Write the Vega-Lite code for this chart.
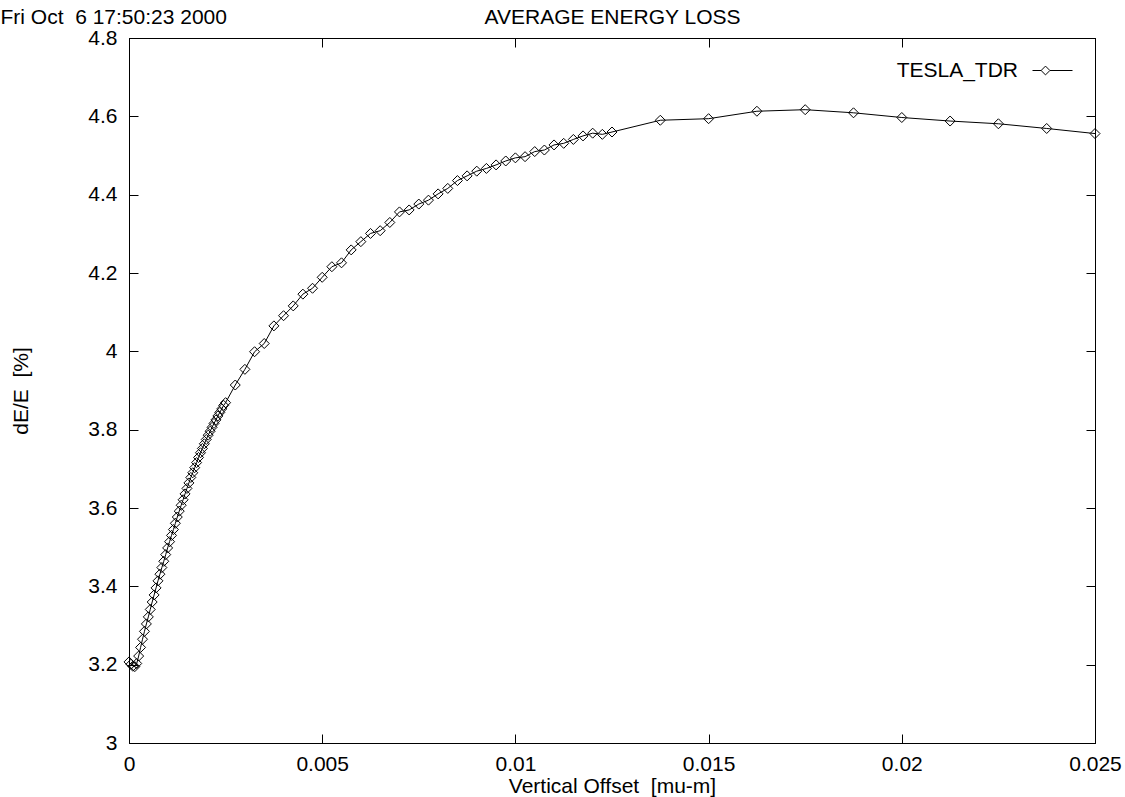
{
  "$schema": "https://vega.github.io/schema/vega-lite/v6.json",
  "width": 966,
  "height": 705,
  "autosize": {"type": "none"},
  "padding": {"left": 129, "top": 38, "right": 30, "bottom": 54},
  "background": "white",
  "config": {
    "font": "Liberation Sans",
    "view": {"stroke": "black", "strokeWidth": 1},
    "axis": {
      "domainColor": "black", "domainWidth": 1,
      "tickColor": "black", "tickWidth": 1, "tickSize": -9,
      "labelColor": "black", "titleColor": "black",
      "labelFont": "Liberation Sans", "titleFont": "Liberation Sans",
      "labelFontSize": 21, "titleFontSize": 21, "titleFontWeight": "normal",
      "grid": false, "labelFlush": false, "labelOverlap": false
    },
    "legend": {"padding": 0}
  },
  "data": {
    "values": [
      {"x": 0, "y": 3.207, "s": "TESLA_TDR"},
      {"x": 0.00005, "y": 3.201, "s": "TESLA_TDR"},
      {"x": 0.0001, "y": 3.196, "s": "TESLA_TDR"},
      {"x": 0.00015, "y": 3.195, "s": "TESLA_TDR"},
      {"x": 0.0002, "y": 3.203, "s": "TESLA_TDR"},
      {"x": 0.00025, "y": 3.222, "s": "TESLA_TDR"},
      {"x": 0.0003, "y": 3.244, "s": "TESLA_TDR"},
      {"x": 0.00035, "y": 3.265, "s": "TESLA_TDR"},
      {"x": 0.0004, "y": 3.285, "s": "TESLA_TDR"},
      {"x": 0.00045, "y": 3.304, "s": "TESLA_TDR"},
      {"x": 0.0005, "y": 3.322, "s": "TESLA_TDR"},
      {"x": 0.00055, "y": 3.341, "s": "TESLA_TDR"},
      {"x": 0.0006, "y": 3.360, "s": "TESLA_TDR"},
      {"x": 0.00065, "y": 3.378, "s": "TESLA_TDR"},
      {"x": 0.0007, "y": 3.396, "s": "TESLA_TDR"},
      {"x": 0.00075, "y": 3.414, "s": "TESLA_TDR"},
      {"x": 0.0008, "y": 3.431, "s": "TESLA_TDR"},
      {"x": 0.00085, "y": 3.448, "s": "TESLA_TDR"},
      {"x": 0.0009, "y": 3.464, "s": "TESLA_TDR"},
      {"x": 0.00095, "y": 3.481, "s": "TESLA_TDR"},
      {"x": 0.001, "y": 3.498, "s": "TESLA_TDR"},
      {"x": 0.00105, "y": 3.514, "s": "TESLA_TDR"},
      {"x": 0.0011, "y": 3.530, "s": "TESLA_TDR"},
      {"x": 0.00115, "y": 3.545, "s": "TESLA_TDR"},
      {"x": 0.0012, "y": 3.561, "s": "TESLA_TDR"},
      {"x": 0.00125, "y": 3.577, "s": "TESLA_TDR"},
      {"x": 0.0013, "y": 3.592, "s": "TESLA_TDR"},
      {"x": 0.00135, "y": 3.607, "s": "TESLA_TDR"},
      {"x": 0.0014, "y": 3.621, "s": "TESLA_TDR"},
      {"x": 0.00145, "y": 3.636, "s": "TESLA_TDR"},
      {"x": 0.0015, "y": 3.650, "s": "TESLA_TDR"},
      {"x": 0.00155, "y": 3.664, "s": "TESLA_TDR"},
      {"x": 0.0016, "y": 3.678, "s": "TESLA_TDR"},
      {"x": 0.00165, "y": 3.690, "s": "TESLA_TDR"},
      {"x": 0.0017, "y": 3.703, "s": "TESLA_TDR"},
      {"x": 0.00175, "y": 3.716, "s": "TESLA_TDR"},
      {"x": 0.0018, "y": 3.729, "s": "TESLA_TDR"},
      {"x": 0.00185, "y": 3.741, "s": "TESLA_TDR"},
      {"x": 0.0019, "y": 3.752, "s": "TESLA_TDR"},
      {"x": 0.00195, "y": 3.764, "s": "TESLA_TDR"},
      {"x": 0.002, "y": 3.775, "s": "TESLA_TDR"},
      {"x": 0.00205, "y": 3.786, "s": "TESLA_TDR"},
      {"x": 0.0021, "y": 3.796, "s": "TESLA_TDR"},
      {"x": 0.00215, "y": 3.806, "s": "TESLA_TDR"},
      {"x": 0.0022, "y": 3.816, "s": "TESLA_TDR"},
      {"x": 0.00225, "y": 3.825, "s": "TESLA_TDR"},
      {"x": 0.0023, "y": 3.835, "s": "TESLA_TDR"},
      {"x": 0.00235, "y": 3.844, "s": "TESLA_TDR"},
      {"x": 0.0024, "y": 3.853, "s": "TESLA_TDR"},
      {"x": 0.00245, "y": 3.862, "s": "TESLA_TDR"},
      {"x": 0.0025, "y": 3.869, "s": "TESLA_TDR"},
      {"x": 0.00275, "y": 3.914, "s": "TESLA_TDR"},
      {"x": 0.003, "y": 3.954, "s": "TESLA_TDR"},
      {"x": 0.00325, "y": 3.999, "s": "TESLA_TDR"},
      {"x": 0.0035, "y": 4.020, "s": "TESLA_TDR"},
      {"x": 0.00375, "y": 4.065, "s": "TESLA_TDR"},
      {"x": 0.004, "y": 4.091, "s": "TESLA_TDR"},
      {"x": 0.00425, "y": 4.116, "s": "TESLA_TDR"},
      {"x": 0.0045, "y": 4.146, "s": "TESLA_TDR"},
      {"x": 0.00475, "y": 4.161, "s": "TESLA_TDR"},
      {"x": 0.005, "y": 4.189, "s": "TESLA_TDR"},
      {"x": 0.00525, "y": 4.216, "s": "TESLA_TDR"},
      {"x": 0.0055, "y": 4.226, "s": "TESLA_TDR"},
      {"x": 0.00575, "y": 4.259, "s": "TESLA_TDR"},
      {"x": 0.006, "y": 4.280, "s": "TESLA_TDR"},
      {"x": 0.00625, "y": 4.301, "s": "TESLA_TDR"},
      {"x": 0.0065, "y": 4.308, "s": "TESLA_TDR"},
      {"x": 0.00675, "y": 4.329, "s": "TESLA_TDR"},
      {"x": 0.007, "y": 4.356, "s": "TESLA_TDR"},
      {"x": 0.00725, "y": 4.361, "s": "TESLA_TDR"},
      {"x": 0.0075, "y": 4.376, "s": "TESLA_TDR"},
      {"x": 0.00775, "y": 4.386, "s": "TESLA_TDR"},
      {"x": 0.008, "y": 4.402, "s": "TESLA_TDR"},
      {"x": 0.00825, "y": 4.416, "s": "TESLA_TDR"},
      {"x": 0.0085, "y": 4.436, "s": "TESLA_TDR"},
      {"x": 0.00875, "y": 4.448, "s": "TESLA_TDR"},
      {"x": 0.009, "y": 4.460, "s": "TESLA_TDR"},
      {"x": 0.00925, "y": 4.467, "s": "TESLA_TDR"},
      {"x": 0.0095, "y": 4.476, "s": "TESLA_TDR"},
      {"x": 0.00975, "y": 4.486, "s": "TESLA_TDR"},
      {"x": 0.01, "y": 4.494, "s": "TESLA_TDR"},
      {"x": 0.01025, "y": 4.497, "s": "TESLA_TDR"},
      {"x": 0.0105, "y": 4.510, "s": "TESLA_TDR"},
      {"x": 0.01075, "y": 4.514, "s": "TESLA_TDR"},
      {"x": 0.011, "y": 4.527, "s": "TESLA_TDR"},
      {"x": 0.01125, "y": 4.531, "s": "TESLA_TDR"},
      {"x": 0.0115, "y": 4.541, "s": "TESLA_TDR"},
      {"x": 0.01175, "y": 4.550, "s": "TESLA_TDR"},
      {"x": 0.012, "y": 4.557, "s": "TESLA_TDR"},
      {"x": 0.01225, "y": 4.554, "s": "TESLA_TDR"},
      {"x": 0.0125, "y": 4.560, "s": "TESLA_TDR"},
      {"x": 0.01375, "y": 4.590, "s": "TESLA_TDR"},
      {"x": 0.015, "y": 4.594, "s": "TESLA_TDR"},
      {"x": 0.01625, "y": 4.613, "s": "TESLA_TDR"},
      {"x": 0.0175, "y": 4.617, "s": "TESLA_TDR"},
      {"x": 0.01875, "y": 4.609, "s": "TESLA_TDR"},
      {"x": 0.02, "y": 4.597, "s": "TESLA_TDR"},
      {"x": 0.02125, "y": 4.588, "s": "TESLA_TDR"},
      {"x": 0.0225, "y": 4.581, "s": "TESLA_TDR"},
      {"x": 0.02375, "y": 4.569, "s": "TESLA_TDR"},
      {"x": 0.025, "y": 4.556, "s": "TESLA_TDR"}
    ]
  },
  "layer": [
    {
      "mark": {"type": "line", "color": "black", "strokeWidth": 1},
      "encoding": {
        "x": {
          "field": "x", "type": "quantitative",
          "scale": {"domain": [0, 0.025], "nice": false, "zero": false},
          "axis": {
            "orient": "bottom",
            "values": [0, 0.005, 0.01, 0.015, 0.02, 0.025],
            "format": "~g",
            "title": "Vertical Offset \u00a0[mu-m]",
            "labelPadding": 19,
            "titleX": 483, "titleY": 49,
            "titleAlign": "center", "titleBaseline": "alphabetic"
          }
        },
        "y": {
          "field": "y", "type": "quantitative",
          "scale": {"domain": [3, 4.8], "nice": false, "zero": false},
          "axis": {
            "orient": "left",
            "values": [3, 3.2, 3.4, 3.6, 3.8, 4, 4.2, 4.4, 4.6, 4.8],
            "format": "~g",
            "title": "dE/E \u00a0[%]",
            "labelPadding": 21,
            "titleX": -102, "titleY": 352.5, "titleAngle": -90,
            "titleAlign": "center", "titleBaseline": "alphabetic"
          }
        },
        "color": {
          "field": "s", "type": "nominal",
          "scale": {"range": ["black"]},
          "legend": {
            "orient": "none", "legendX": 903, "legendY": 12,
            "title": null,
            "symbolType": "M-1,0L-0.57,0M-0.13,0L1,0M-0.57,0L-0.35,-0.22L-0.13,0L-0.35,0.22Z",
            "symbolSize": 1600,
            "symbolStrokeWidth": 1,
            "symbolStrokeColor": "black",
            "symbolFillColor": "transparent",
            "labelFont": "Liberation Sans",
            "labelFontSize": 21,
            "labelColor": "black",
            "labelAlign": "right",
            "labelOffset": -55,
            "labelLimit": 0
          }
        }
      }
    },
    {
      "mark": {"type": "point", "shape": "diamond", "filled": false, "color": "black", "size": 100, "strokeWidth": 1, "opacity": 1},
      "encoding": {
        "x": {
          "field": "x", "type": "quantitative",
          "axis": {
            "orient": "top",
            "values": [0, 0.005, 0.01, 0.015, 0.02, 0.025],
            "labels": false,
            "title": "AVERAGE ENERGY LOSS",
            "titleX": 483, "titleY": -15,
            "titleAlign": "center", "titleBaseline": "alphabetic"
          }
        },
        "y": {
          "field": "y", "type": "quantitative",
          "axis": {
            "orient": "right",
            "values": [3, 3.2, 3.4, 3.6, 3.8, 4, 4.2, 4.4, 4.6, 4.8],
            "labels": false,
            "title": "Fri Oct \u00a06 17:50:23 2000",
            "titleX": -1095, "titleY": -15, "titleAngle": 0,
            "titleAlign": "left", "titleBaseline": "alphabetic"
          }
        }
      }
    }
  ],
  "resolve": {"axis": {"x": "independent", "y": "independent"}}
}
